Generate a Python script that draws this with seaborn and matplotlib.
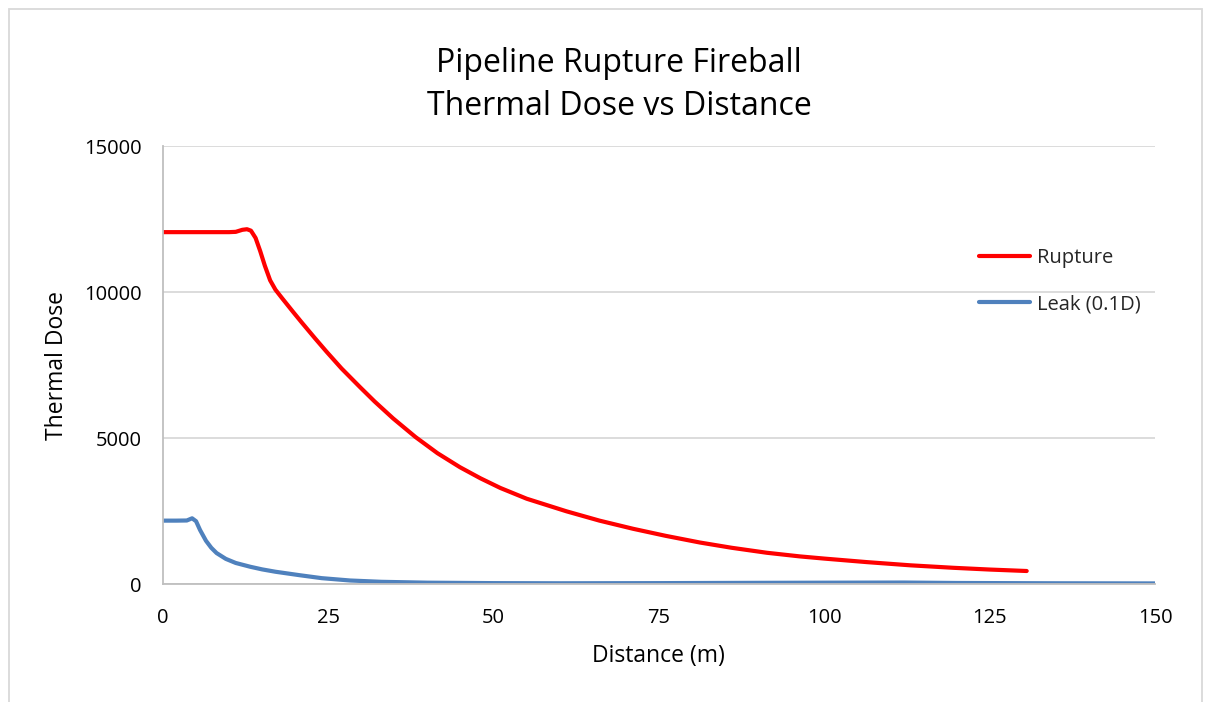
import numpy as np
import pandas as pd
import matplotlib
matplotlib.use("Agg")
import matplotlib.pyplot as plt
from matplotlib.patches import Rectangle
import seaborn as sns

# ---- data ----
rupture_x = [0, 2, 4, 6, 8, 10, 11, 12, 12.7, 13.3, 14, 14.7, 15.4, 16.2, 17, 18,
             19.7, 21, 23, 24.75, 27, 29.8, 32, 34.8, 38.2, 41.5, 44.9, 48, 51, 55,
             61, 66, 71.1, 76, 81.2, 86, 91.3, 96.3, 100, 106.4, 113, 119.5, 125, 130.6]
rupture_y = [12050, 12050, 12050, 12050, 12050, 12050, 12060, 12130, 12150, 12100,
             11850, 11400, 10900, 10400, 10080, 9790, 9310, 8950, 8410, 7950, 7380,
             6740, 6250, 5670, 5030, 4480, 4000, 3620, 3290, 2920, 2490, 2170, 1890,
             1650, 1420, 1240, 1070, 945, 870, 750, 640, 555, 495, 445]

leak_x = [0, 2, 3.6, 4.4, 5, 5.6, 6.5, 7.3, 8.1, 9.5, 11, 13.2, 15, 17, 20.7, 24,
          28.3, 33, 40, 50, 60, 75, 90, 100, 112, 120, 135, 150]
leak_y = [2170, 2170, 2175, 2250, 2150, 1850, 1480, 1240, 1060, 860, 720, 590, 500,
          420, 300, 200, 120, 75, 45, 30, 25, 30, 40, 45, 50, 35, 25, 20]

series_names = ["Rupture", "Leak (0.1D)"]
x_ticks = [0, 25, 50, 75, 100, 125, 150]
y_ticks = [0, 5000, 10000, 15000]
title_text = "Pipeline Rupture Fireball\nThermal Dose vs Distance"
x_label = "Distance (m)"
y_label = "Thermal Dose"

df = pd.concat([
    pd.DataFrame({"Distance": rupture_x, "Dose": rupture_y, "Series": series_names[0]}),
    pd.DataFrame({"Distance": leak_x, "Dose": leak_y, "Series": series_names[1]}),
], ignore_index=True)

sns.set_theme(style="white")
plt.rcParams["font.family"] = ["Open Sans", "DejaVu Sans"]

W, H = 1206, 702
fig = plt.figure(figsize=(W / 100, H / 100), dpi=100)
ax = fig.add_axes([163 / W, 1 - 584 / H, (1155 - 163) / W, (584 - 146) / H])

palette = {"Rupture": "#FF0000", "Leak (0.1D)": "#4F81BD"}
sns.lineplot(data=df, x="Distance", y="Dose", hue="Series", palette=palette,
             estimator=None, sort=False, linewidth=3.0, ax=ax, legend=True)

ax.set_xlim(0, 150)
ax.set_ylim(0, 15000)
ax.set_xticks(x_ticks)
ax.set_yticks(y_ticks)
ax.tick_params(axis="both", length=0, labelsize=14.5, colors="black")
ax.tick_params(axis="y", pad=15.5)
ax.tick_params(axis="x", pad=17)
ax.yaxis.grid(True, color="#D9D9D9", linewidth=1.3)
ax.xaxis.grid(False)
ax.set_axisbelow(True)
for s in ["top", "right"]:
    ax.spines[s].set_visible(False)
for s in ["left", "bottom"]:
    ax.spines[s].set_color("#BFBFBF")
    ax.spines[s].set_linewidth(1.3)

ax.set_xlabel(x_label, fontsize=16.5, color="black")
ax.set_ylabel(y_label, fontsize=16.5, color="black")
ax.xaxis.set_label_coords(0.5 - (659 - 658) / 992, (584 - 656) / 438)
ax.xaxis.label.set_va("center")
ax.yaxis.set_label_coords((57 - 163) / 992, 0.5)
ax.yaxis.label.set_va("center")

leg = ax.legend(loc="upper left", bbox_to_anchor=(979 / W, 1 - 248 / H),
                bbox_transform=fig.transFigure, frameon=False, fontsize=14.5,
                handlelength=2.55, handletextpad=0.35, labelspacing=1.3,
                borderpad=0, borderaxespad=0, title=None)
for line in leg.get_lines():
    line.set_linewidth(3.0)

fig.text(619 / W, 1 - 85 / H, title_text, ha="center", va="center",
         fontsize=23, color="black", linespacing=1.4, multialignment="center")

fig.patches.append(Rectangle((8.5 / W, -0.05), (1202 - 8.5) / W, 1.05 - 9 / H,
                             transform=fig.transFigure, fill=False,
                             edgecolor="#D9D9D9", linewidth=1.3))

fig.savefig("out.png", dpi=100)
